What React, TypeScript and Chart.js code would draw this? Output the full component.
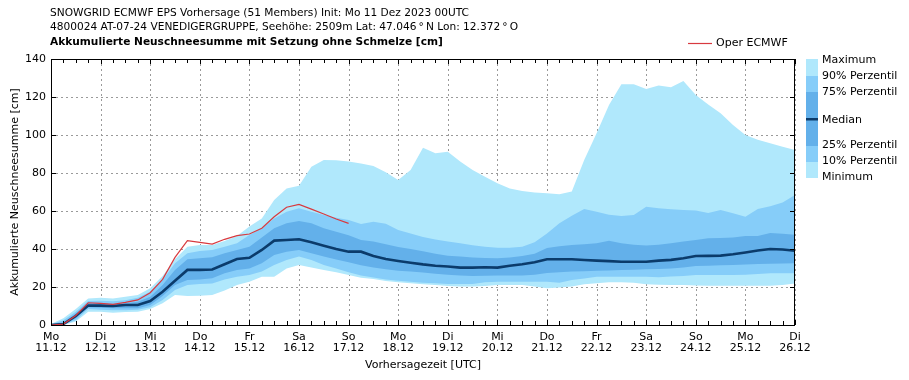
import React, { useEffect, useRef } from "react";
import { Chart, registerables } from "chart.js";
Chart.register(...registerables);

const HOURS = [0, 6, 12, 18, 24, 30, 36, 42, 48, 54, 60, 66, 72, 78, 84, 90, 96, 102, 108, 114, 120, 126, 132, 138, 144, 150, 156, 162, 168, 174, 180, 186, 192, 198, 204, 210, 216, 222, 228, 234, 240, 246, 252, 258, 264, 270, 276, 282, 288, 294, 300, 306, 312, 318, 324, 330, 336, 342, 348, 354, 360];

const MAXIMUM = [0.5, 3.5, 8.4, 14, 14.4, 14, 14.9, 15.8, 19.3, 25.8, 34.6, 41.2, 42.1, 42.1, 44.2, 46.8, 51.8, 56.1, 65.8, 71.9, 73.3, 83.3, 86.8, 86.7, 86, 85, 83.7, 80.4, 76.3, 81.6, 93.3, 90.4, 91.2, 86, 81.6, 78, 74.6, 71.9, 70.5, 69.8, 69.3, 68.8, 70.2, 86.8, 100.9, 115.8, 126.7, 126.7, 124.2, 126, 125.1, 128.4, 121, 116, 111.4, 105.3, 100, 97.5, 95.6, 93.8, 92.1];
const P90 = [0.3, 2.5, 7, 12.6, 12.8, 12.5, 13, 14.4, 17.5, 23.7, 32.5, 37.7, 38.9, 39.5, 41.2, 43, 47.4, 50.9, 56.1, 59.6, 61.4, 59.6, 57.9, 56.5, 55.3, 53.2, 54.4, 53.3, 50, 48.2, 46.3, 45, 44, 43, 42, 41.2, 40.6, 40.6, 41.2, 43.5, 48.2, 53.5, 57.5, 61, 59.6, 58, 57.4, 57.9, 62.3, 61.5, 60.9, 60.5, 60.2, 59, 60.5, 58.8, 57, 61, 62.5, 64.5, 68.4];
const P75 = [0.2, 1.5, 6, 11.4, 11.4, 11, 11.5, 12.3, 14.9, 21, 29, 34.6, 35.1, 35.6, 37.7, 39.5, 41.2, 46, 50.9, 53.5, 54.7, 53.5, 50.9, 49.1, 47.2, 44.8, 43.9, 42.5, 41, 40, 38.8, 37.5, 36.5, 36, 35.5, 35.2, 35.1, 35.5, 36.3, 37.5, 40.5, 41.5, 42.1, 42.5, 43, 44.4, 43, 42.3, 41.8, 42.2, 43, 43.9, 44.7, 45.6, 45.8, 46.1, 46.8, 46.8, 48.4, 48, 47.5];
const MEDIAN = [0, 0.5, 4.7, 10.2, 10.2, 10, 10.5, 10.5, 12.6, 17.5, 23.3, 29, 29, 29.2, 32, 34.7, 35.4, 39.5, 44.4, 44.7, 45.1, 43.5, 41.7, 40, 38.6, 38.6, 36.3, 34.7, 33.7, 32.8, 31.9, 31.2, 30.8, 30.2, 30.2, 30.4, 30.2, 31.2, 32, 33, 34.6, 34.6, 34.6, 34.2, 33.9, 33.6, 33.3, 33.3, 33.3, 33.9, 34.3, 35.1, 36.3, 36.4, 36.5, 37.2, 38.2, 39.2, 40, 39.7, 39.1];
const P25 = [0, 0.3, 3.5, 9.4, 9.1, 8.8, 8.8, 8.8, 10.5, 15.3, 21, 23.7, 24, 24.6, 27.2, 29, 29.8, 32.5, 36.8, 38.6, 39.5, 37.7, 36, 34.5, 33, 31.4, 30.2, 29.3, 28.6, 28.1, 27.6, 27, 26.5, 26.1, 25.8, 25.9, 26, 26, 26, 26.5, 27.4, 27.8, 28.1, 28.3, 28.6, 28.7, 28.9, 29.1, 29.3, 29.5, 29.8, 30.3, 31, 31.2, 31.4, 31.6, 31.9, 32.1, 32.3, 32.4, 32.5];
const P10 = [0, 0.2, 2.5, 8.4, 8, 7.8, 7.8, 8, 9.4, 13.2, 18.4, 21, 21.6, 21.9, 24, 25.4, 26.3, 28.1, 31.6, 34.2, 36, 34.2, 31.6, 29.8, 27.8, 26, 25, 24, 23.3, 22.8, 22.3, 22, 21.6, 21.6, 21.6, 22.5, 22.8, 22.8, 22.8, 22.8, 22.8, 22.3, 23.7, 24.5, 25.4, 25.4, 25.4, 25.4, 25.4, 25.1, 25.5, 25.8, 26.3, 26.3, 26.3, 26.3, 26.5, 26.8, 27.2, 27.2, 27.2];
const MINIMUM = [0, 0, 1.8, 7, 7, 6.5, 6.8, 7, 8.4, 11.4, 15.8, 15.3, 15.4, 15.8, 18.1, 21, 22.8, 25.4, 25.4, 29.8, 31.6, 30.2, 28.9, 27.7, 26.3, 24.9, 24.2, 23.2, 22.5, 22, 21.5, 21, 20.5, 20.2, 20.2, 20.5, 21, 21, 21, 20.2, 19.3, 19.8, 20.2, 21.4, 22, 22.5, 22.5, 22.2, 21.4, 21.2, 21, 21, 20.8, 20.7, 20.7, 20.7, 20.7, 20.7, 20.7, 21, 21.9];
const OPER = [0, 0.5, 5, 11.7, 11.4, 10.9, 11.9, 13.2, 17, 24, 35.6, 44.4, 43.5, 42.6, 45.1, 47, 47.9, 50.9, 57, 62, 63.5, 61, 58.4, 55.8, 53.5];

const DAY_NAMES = ["Mo", "Di", "Mi", "Do", "Fr", "Sa", "So", "Mo", "Di", "Mi", "Do", "Fr", "Sa", "So", "Mo", "Di"];
const DAY_DATES = ["11.12", "12.12", "13.12", "14.12", "15.12", "16.12", "17.12", "18.12", "19.12", "20.12", "21.12", "22.12", "23.12", "24.12", "25.12", "26.12"];
const Y_TICKS = [0, 20, 40, 60, 80, 100, 120, 140];

const TITLE_1 = "SNOWGRID ECMWF EPS Vorhersage (51 Members) Init: Mo 11 Dez 2023 00UTC";
const TITLE_2 = "4800024 AT-07-24 VENEDIGERGRUPPE, Seehöhe: 2509m Lat: 47.046\u2009°\u2009N Lon: 12.372\u2009°\u2009O";
const TITLE_3 = "Akkumulierte Neuschneesumme mit Setzung ohne Schmelze [cm]";
const X_TITLE = "Vorhersagezeit [UTC]";
const Y_TITLE = "Akkumulierte Neuschneesumme [cm]";

const C_LIGHT = "#b0e8fc";
const C_MID = "#86cdf9";
const C_DARK = "#63b0ea";
const C_MEDIAN = "#0b3b6b";
const C_OPER = "#d83a3f";
const FONT = "DejaVu Sans";

const pts = (arr: number[]) => arr.map((v, i) => ({ x: HOURS[i], y: v }));

const decor = {
  id: "decor",
  beforeDraw(chart: any) {
    const { ctx, width, height } = chart;
    ctx.save();
    ctx.fillStyle = "#fff";
    ctx.fillRect(0, 0, width, height);
    ctx.restore();
  },
  beforeDatasetsDraw(chart: any) {
    const { ctx, chartArea: a, scales } = chart;
    const x = scales.x, y = scales.y;
    ctx.save();
    ctx.strokeStyle = "#9a9a9a";
    ctx.lineWidth = 1;
    ctx.setLineDash([2, 3]);
    for (let d = 0; d < DAY_NAMES.length; d++) {
      const px = Math.round(x.getPixelForValue(d * 24)) + 0.5;
      ctx.beginPath();
      ctx.moveTo(px, a.top);
      ctx.lineTo(px, a.bottom);
      ctx.stroke();
    }
    for (const v of Y_TICKS) {
      const py = Math.round(y.getPixelForValue(v)) + 0.5;
      ctx.beginPath();
      ctx.moveTo(a.left, py);
      ctx.lineTo(a.right, py);
      ctx.stroke();
    }
    ctx.restore();
  },
  afterDraw(chart: any) {
    const { ctx, chartArea: a, scales } = chart;
    const x = scales.x, y = scales.y;
    ctx.save();
    // frame
    ctx.strokeStyle = "#000";
    ctx.lineWidth = 1;
    ctx.strokeRect(Math.round(a.left) + 0.5, Math.round(a.top) + 0.5, Math.round(a.right - a.left) - 1, Math.round(a.bottom - a.top));
    // x ticks every 6 h
    for (const h of HOURS) {
      const px = Math.round(x.getPixelForValue(h)) + 0.5;
      const len = h % 24 === 0 ? 5 : 4;
      ctx.beginPath();
      ctx.moveTo(px, a.bottom);
      ctx.lineTo(px, a.bottom - len);
      ctx.moveTo(px, a.top);
      ctx.lineTo(px, a.top + len);
      ctx.stroke();
    }
    for (const v of Y_TICKS) {
      const py = Math.round(y.getPixelForValue(v)) + 0.5;
      ctx.beginPath();
      ctx.moveTo(a.left, py);
      ctx.lineTo(a.left + 5, py);
      ctx.moveTo(a.right, py);
      ctx.lineTo(a.right - 5, py);
      ctx.stroke();
    }
    // titles
    ctx.fillStyle = "#000";
    ctx.textBaseline = "middle";
    ctx.textAlign = "left";
    ctx.font = `10.6px "${FONT}"`;
    ctx.fillText(TITLE_1, 50, 13);
    ctx.fillText(TITLE_2, 50, 27);
    ctx.font = `bold 10.6px "${FONT}"`;
    ctx.fillText(TITLE_3, 50, 42.5);
    // axis titles
    ctx.font = `11px "${FONT}"`;
    ctx.textAlign = "center";
    ctx.fillText(X_TITLE, (a.left + a.right) / 2, 365);
    ctx.save();
    ctx.translate(15, (a.top + a.bottom) / 2);
    ctx.rotate(-Math.PI / 2);
    ctx.fillText(Y_TITLE, 0, 0);
    ctx.restore();
    // Oper legend
    ctx.strokeStyle = C_OPER;
    ctx.lineWidth = 1.2;
    ctx.beginPath();
    ctx.moveTo(688, 43.5);
    ctx.lineTo(712, 43.5);
    ctx.stroke();
    ctx.textAlign = "left";
    ctx.fillText("Oper ECMWF", 716, 43);
    // right legend
    const lx = 806, lw = 12;
    const segs: [number, number, string][] = [
      [59, 76, C_LIGHT], [76, 92, C_MID], [92, 146, C_DARK], [146, 162, C_MID], [162, 178, C_LIGHT],
    ];
    for (const [t, b, c] of segs) {
      ctx.fillStyle = c;
      ctx.fillRect(lx, t, lw, b - t);
    }
    ctx.fillStyle = C_MEDIAN;
    ctx.fillRect(lx, 118, lw, 2.5);
    ctx.fillStyle = "#000";
    const labels: [string, number][] = [
      ["Maximum", 60.5], ["90% Perzentil", 76.5], ["75% Perzentil", 92], ["Median", 120],
      ["25% Perzentil", 145], ["10% Perzentil", 161], ["Minimum", 177],
    ];
    for (const [t, yy] of labels) ctx.fillText(t, 822, yy);
    ctx.restore();
  },
};

export default function App() {
  const ref = useRef<HTMLCanvasElement | null>(null);
  useEffect(() => {
    document.body.style.margin = "0";
    const band = (data: number[], color: string, fill: any, order: number) => ({
      data: pts(data),
      borderColor: "rgba(0,0,0,0)",
      borderWidth: 0,
      backgroundColor: color,
      pointRadius: 0,
      fill,
      order,
      tension: 0,
    });
    const chart = new Chart(ref.current!, {
      type: "line",
      data: {
        datasets: [
          band(MAXIMUM, C_LIGHT, 1, 6),
          band(MINIMUM, C_LIGHT, false, 6),
          band(P90, C_MID, 3, 5),
          band(P10, C_MID, false, 5),
          band(P75, C_DARK, 5, 4),
          band(P25, C_DARK, false, 4),
          { data: pts(MEDIAN), borderColor: C_MEDIAN, borderWidth: 2.6, pointRadius: 0, fill: false, order: 1, tension: 0 },
          { data: pts(OPER), borderColor: C_OPER, borderWidth: 1.2, pointRadius: 0, fill: false, order: 0, tension: 0 },
        ] as any,
      },
      options: {
        animation: false,
        responsive: false,
        events: [],
        layout: { padding: { left: 0, top: 59, right: 114, bottom: 0 } },
        plugins: { legend: { display: false }, title: { display: false }, tooltip: { enabled: false } },
        scales: {
          x: {
            type: "linear",
            min: 0,
            max: 360,
            grid: { display: false, drawTicks: false },
            border: { display: false },
            afterBuildTicks: (s: any) => { s.ticks = DAY_NAMES.map((_, i) => ({ value: i * 24 })); },
            afterFit: (s: any) => { s.height = 55; },
            ticks: {
              autoSkip: false,
              maxRotation: 0,
              padding: 6,
              color: "#000",
              font: { family: FONT, size: 11, lineHeight: 1.05 },
              callback: (v: any) => { const i = Math.round(Number(v) / 24); return [DAY_NAMES[i], DAY_DATES[i]]; },
            },
          },
          y: {
            type: "linear",
            min: 0,
            max: 140,
            grid: { display: false, drawTicks: false },
            border: { display: false },
            afterBuildTicks: (s: any) => { s.ticks = Y_TICKS.map((v) => ({ value: v })); },
            afterFit: (s: any) => { s.width = 51; },
            ticks: { padding: 5, color: "#000", font: { family: FONT, size: 11 } },
          },
        },
      },
      plugins: [decor],
    });
    return () => chart.destroy();
  }, []);
  return (
    <div style={{ width: 909, height: 380 }}>
      <canvas ref={ref} width={909} height={380} style={{ display: "block" }} />
    </div>
  );
}
